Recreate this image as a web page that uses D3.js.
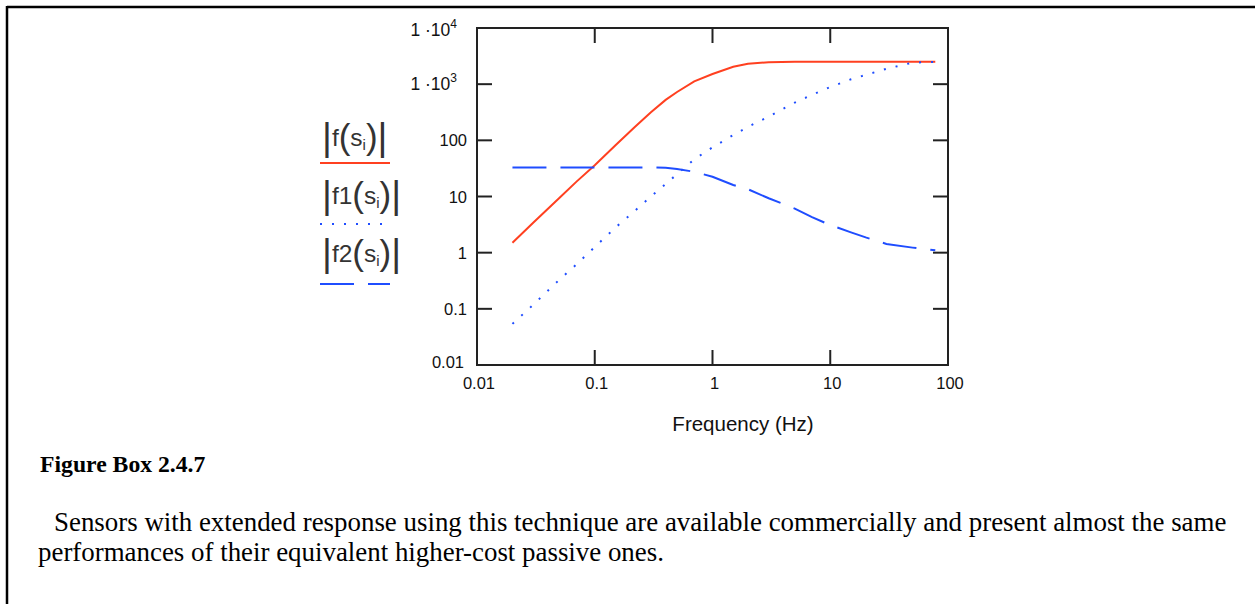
<!DOCTYPE html>
<html><head><meta charset="utf-8">
<script src="https://cdn.jsdelivr.net/npm/d3@7"></script>
<style>
html,body{margin:0;padding:0;background:#fff;}
svg{display:block;}
</style></head>
<body>
<svg id="chart" width="1255" height="604"></svg>
<script>
// ---- data ----
const freq = [0.02, 0.03, 0.05, 0.07, 0.1, 0.15, 0.22, 0.3, 0.4, 0.5, 0.7, 1, 1.5, 2, 3, 5, 7, 10, 15, 20, 30, 50, 78];
const fMag  = [1.5, 3.4, 9.4, 18.4, 36, 82, 175, 315, 525, 725, 1120, 1520, 2040, 2300, 2460, 2500, 2500, 2500, 2500, 2500, 2500, 2500, 2500];
const f1Mag = [0.054, 0.118, 0.33, 0.62, 1.26, 2.8, 5.6, 10, 16.7, 25, 46, 75, 124, 174, 264, 470, 644, 890, 1220, 1460, 1880, 2420, 2500];
const f2Mag = [33, 33, 33, 33, 33, 33, 33, 33, 32.5, 31, 27.5, 22.5, 16, 13.5, 9.3, 6.1, 4.3, 3.1, 2.3, 1.87, 1.43, 1.23, 1.1];
const xTicks = [0.01, 0.1, 1, 10, 100];
const xTickLabels = ["0.01", "0.1", "1", "10", "100"];
const yTicks = [0.01, 0.1, 1, 10, 100, 1000, 10000];
const yTickLabels = ["0.01", "0.1", "1", "10", "100", ["1 ·10", "3"], ["1 ·10", "4"]];
const xTitle = "Frequency (Hz)";
const captionTitle = "Figure Box 2.4.7";
const captionLines = [
  "Sensors with extended response using this technique are available commercially and present almost the same",
  "performances of their equivalent higher-cost passive ones."
];
const legendNames = ["f", "f1", "f2"];

const RED = "#ff4020", BLUE = "#1f4dff";

const svg = d3.select("#chart");

// outer frame (top + left)
svg.append("line").attr("x1", 7).attr("x2", 1255).attr("y1", 7).attr("y2", 7).attr("stroke", "#000").attr("stroke-width", 2.5);
svg.append("line").attr("x1", 7).attr("x2", 7).attr("y1", 6).attr("y2", 604).attr("stroke", "#000").attr("stroke-width", 2.5);

const x = d3.scaleLog().domain([0.01, 100]).range([477, 948]);
const y = d3.scaleLog().domain([0.01, 10000]).range([365, 28]);

const axisColor = "#222";
const tickFont = "Liberation Sans, Arial, sans-serif";

// plot box
svg.append("rect").attr("x", x(0.01)).attr("y", y(10000))
  .attr("width", x(100) - x(0.01)).attr("height", y(0.01) - y(10000))
  .attr("fill", "none").attr("stroke", axisColor).attr("stroke-width", 2);

// inward ticks on all four sides
const TL = 15;
const innerX = xTicks.slice(1, -1), innerY = yTicks.slice(1, -1);
const tg = svg.append("g").attr("stroke", axisColor).attr("stroke-width", 2);
innerX.forEach(v => {
  tg.append("line").attr("x1", x(v)).attr("x2", x(v)).attr("y1", y(0.01)).attr("y2", y(0.01) - TL);
  tg.append("line").attr("x1", x(v)).attr("x2", x(v)).attr("y1", y(10000)).attr("y2", y(10000) + TL);
});
innerY.forEach(v => {
  tg.append("line").attr("x1", x(0.01)).attr("x2", x(0.01) + TL).attr("y1", y(v)).attr("y2", y(v));
  tg.append("line").attr("x1", x(100)).attr("x2", x(100) - TL).attr("y1", y(v)).attr("y2", y(v));
});

// x tick labels
svg.append("g").selectAll("text").data(xTicks).join("text")
  .attr("x", d => x(d) + 2).attr("y", 389)
  .attr("text-anchor", "middle").attr("font-family", tickFont).attr("font-size", 16.5).attr("fill", "#111")
  .text((d, i) => xTickLabels[i]);

// y tick labels
yTicks.forEach((v, i) => {
  const lab = yTickLabels[i];
  const yy = Math.min(Math.max(y(v), 30), 362) + 6;
  const t = svg.append("text").attr("text-anchor", "end").attr("font-family", tickFont)
    .attr("font-size", 16.5).attr("fill", "#111").attr("y", yy);
  if (Array.isArray(lab)) {
    t.attr("x", 457).attr("font-size", 17.5);
    t.append("tspan").text(lab[0]);
    t.append("tspan").attr("dy", -8).attr("font-size", 12).text(lab[1]);
  } else {
    t.attr("x", v === 0.01 ? 464 : 467).text(lab);
  }
});

// x title
svg.append("text").attr("x", 743).attr("y", 431).attr("text-anchor", "middle")
  .attr("font-family", tickFont).attr("font-size", 20.5).attr("fill", "#111").text(xTitle);

// series
const line = d3.line().x(d => x(d[0])).y(d => y(d[1]));
const series = [
  {vals: fMag, color: RED, dash: null, w: 2},
  {vals: f1Mag, color: BLUE, dash: "2,10", w: 2},
  {vals: f2Mag, color: BLUE, dash: "34,14", w: 2},
];
series.forEach(s => {
  svg.append("path").datum(freq.map((f, i) => [f, s.vals[i]]))
    .attr("d", line).attr("fill", "none").attr("stroke", s.color)
    .attr("stroke-width", s.w).attr("stroke-dasharray", s.dash);
});

// legend
const legY = [146, 204, 262];
const sampleY = [163, 224, 284];
legendNames.forEach((name, i) => {
  const t = svg.append("text").attr("x", 322).attr("y", legY[i])
    .attr("font-family", tickFont).attr("fill", "#333").attr("font-size", 24.5);
  t.append("tspan").attr("font-size", 38).attr("font-weight", 300).attr("dy", 4).text("|");
  t.append("tspan").attr("dy", -4).text(name);
  t.append("tspan").attr("font-size", 35).attr("dy", 3).text("(");
  t.append("tspan").attr("dy", -3).text("s");
  t.append("tspan").attr("font-size", 15).attr("dy", 4).text("i");
  t.append("tspan").attr("font-size", 35).attr("dy", -1).text(")");
  t.append("tspan").attr("font-size", 38).attr("dy", 1).text("|");
  const s = series[i];
  svg.append("line").attr("x1", 320).attr("x2", 390).attr("y1", sampleY[i]).attr("y2", sampleY[i])
    .attr("stroke", s.color).attr("stroke-width", 2).attr("stroke-dasharray", s.dash);
});

// caption
const serif = "Liberation Serif, Times New Roman, serif";
svg.append("text").attr("x", 40).attr("y", 472).attr("font-family", serif)
  .attr("font-weight", "bold").attr("font-size", 23.7).attr("fill", "#000").text(captionTitle);
svg.append("text").attr("x", 54).attr("y", 531).attr("font-family", serif)
  .attr("font-size", 26.9).attr("fill", "#000").text(captionLines[0]);
svg.append("text").attr("x", 38).attr("y", 561).attr("font-family", serif)
  .attr("font-size", 26.9).attr("fill", "#000").text(captionLines[1]);
</script>
</body></html>
